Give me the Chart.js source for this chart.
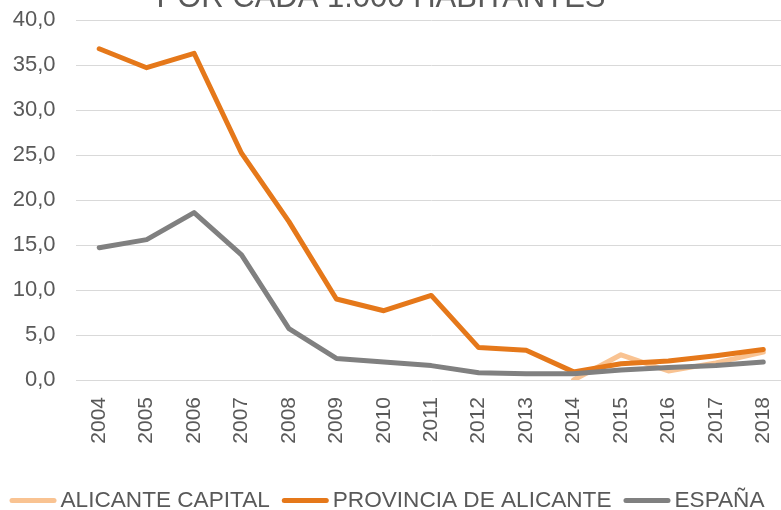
<!DOCTYPE html>
<html>
<head>
<meta charset="utf-8">
<script src="https://cdn.jsdelivr.net/npm/chart.js@4"></script>
<style>
  html, body { margin: 0; padding: 0; overflow: hidden; background: #ffffff; }
  #wrap { position: relative; width: 787px; height: 510px; }
</style>
</head>
<body>
<div id="wrap"><canvas id="c"></canvas></div>
<script>
const years = ['2004','2005','2006','2007','2008','2009','2010','2011','2012','2013','2014','2015','2016','2017','2018'];
const alicanteCapital = [null, null, null, null, null, null, null, null, null, null, 0.0, 2.8, 1.0, 1.9, 3.1];
const provinciaAlicante = [36.8, 34.7, 36.3, 25.2, 17.6, 9.0, 7.7, 9.4, 3.6, 3.3, 0.9, 1.8, 2.1, 2.7, 3.4];
const espana = [14.7, 15.6, 18.6, 13.9, 5.7, 2.4, 2.0, 1.6, 0.8, 0.7, 0.7, 1.1, 1.4, 1.6, 2.0];
const seriesNames = ['ALICANTE CAPITAL', 'PROVINCIA DE ALICANTE', 'ESPAÑA'];
const seriesColors = ['#F9C392', '#E5781A', '#808080'];
const titleText = 'POR CADA 1.000 HABITANTES';

const FONT = '"Liberation Sans", Arial, sans-serif';
const TEXT = '#595959';

const overlay = {
  id: 'overlay',
  afterDraw(chart) {
    const ctx = chart.ctx;
    ctx.save();
    ctx.fillStyle = TEXT;
    ctx.font = '31px ' + FONT;
    ctx.textAlign = 'center';
    ctx.textBaseline = 'alphabetic';
    ctx.fillText(titleText, 381, 7);
    ctx.font = '22.6px ' + FONT;
    const boxW = 47, gapIn = 4, gapOut = 12;
    const widths = seriesNames.map(n => ctx.measureText(n).width);
    let total = 0;
    widths.forEach((w, i) => { total += boxW + gapIn + w + (i < widths.length - 1 ? gapOut : 0); });
    let x = 387 - total / 2;
    ctx.textAlign = 'left';
    seriesNames.forEach((n, i) => {
      ctx.strokeStyle = seriesColors[i];
      ctx.lineWidth = 5;
      ctx.lineCap = 'round';
      ctx.beginPath();
      ctx.moveTo(x + 2.5, 500.5);
      ctx.lineTo(x + boxW - 2.5, 500.5);
      ctx.stroke();
      x += boxW + gapIn;
      ctx.fillStyle = TEXT;
      ctx.fillText(n, x, 507);
      x += widths[i] + gapOut;
    });
    ctx.restore();
  }
};

const lineStyle = {
  borderWidth: 5,
  pointRadius: 0,
  pointHoverRadius: 0,
  tension: 0,
  fill: false,
  borderCapStyle: 'round',
  borderJoinStyle: 'round',
  spanGaps: false
};

new Chart(document.getElementById('c'), {
  type: 'line',
  data: {
    labels: years,
    datasets: [
      Object.assign({ label: seriesNames[0], data: alicanteCapital, borderColor: seriesColors[0], backgroundColor: seriesColors[0], order: 3 }, lineStyle),
      Object.assign({ label: seriesNames[1], data: provinciaAlicante, borderColor: seriesColors[1], backgroundColor: seriesColors[1], order: 2 }, lineStyle),
      Object.assign({ label: seriesNames[2], data: espana, borderColor: seriesColors[2], backgroundColor: seriesColors[2], order: 1 }, lineStyle)
    ]
  },
  options: {
    responsive: true,
    maintainAspectRatio: false,
    animation: false,
    layout: { padding: { top: 20, left: 0, right: 0, bottom: 0 } },
    plugins: {
      legend: { display: false },
      title: { display: false },
      tooltip: { enabled: false }
    },
    scales: {
      x: {
        type: 'category',
        offset: true,
        grid: { display: false, drawTicks: false },
        border: { display: false },
        ticks: {
          color: TEXT,
          font: { family: FONT, size: 21 },
          minRotation: 90,
          maxRotation: 90,
          padding: 17,
          autoSkip: false
        },
        afterFit(scale) { scale.height = 130; scale.paddingLeft = 0; scale.paddingRight = 0; }
      },
      y: {
        min: 0,
        max: 40,
        grid: { color: '#D9D9D9', lineWidth: 1, drawTicks: false },
        border: { display: false },
        ticks: {
          stepSize: 5,
          color: TEXT,
          font: { family: FONT, size: 22 },
          padding: 20,
          callback: v => v.toFixed(1).replace('.', ',')
        },
        afterFit(scale) { scale.width = 75.5; scale.paddingTop = 0; scale.paddingBottom = 0; }
      }
    }
  },
  plugins: [overlay]
});
</script>
</body>
</html>
